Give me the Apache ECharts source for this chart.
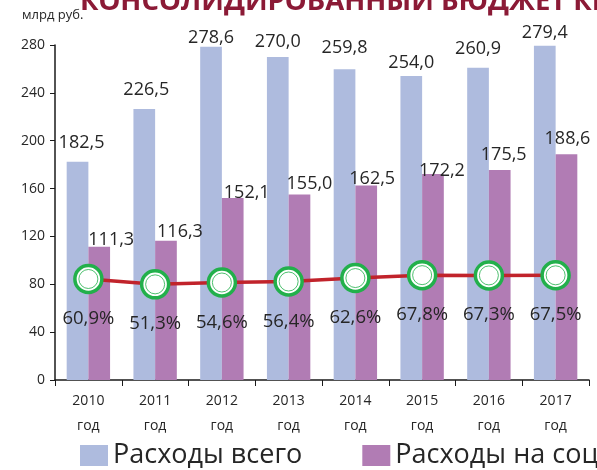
<!DOCTYPE html>
<html>
<head>
<meta charset="utf-8">
<script src="https://cdn.jsdelivr.net/npm/echarts@6/dist/echarts.min.js"></script>
<style>
  html, body { margin: 0; padding: 0; background: #fff; }
  #chart { width: 597px; height: 470px; }
</style>
</head>
<body>
<div id="chart"></div>
<script>
var years = ['2010', '2011', '2012', '2013', '2014', '2015', '2016', '2017'];
var totalSpending = [182.5, 226.5, 278.6, 270.0, 259.8, 254.0, 260.9, 279.4];
var socialSpending = [111.3, 116.3, 152.1, 155.0, 162.5, 172.2, 175.5, 188.6];
var socialShare = [60.9, 51.3, 54.6, 56.4, 62.6, 67.8, 67.3, 67.5];
var yTicks = [0, 40, 80, 120, 160, 200, 240, 280];

var FONT = '"Open Sans", "Noto Sans", sans-serif';
var TEXT = '#262626';

// label nudges, excel labels were dragged by hand
var totalNudge = [[4, -4], [2, -4], [0, 6], [0, 0], [0, -6], [0, 2], [0, -4], [0, 2]];
var socialNudge = [[12, 4], [14, 2], [14, 6], [10, 0], [6, 4], [9, 8], [4, -4], [1, -4]];

function comma(v, d) {
  return v.toFixed(d).replace('.', ',');
}

function barData(values, nudge) {
  return values.map(function (v, i) {
    return { value: v, label: { offset: nudge[i] } };
  });
}

var chart = echarts.init(document.getElementById('chart'));

chart.setOption({
  animation: false,
  textStyle: { fontFamily: FONT },
  graphic: [
    {
      type: 'text', left: 80, top: -12,
      style: {
        text: 'КОНСОЛИДИРОВАННЫЙ БЮДЖЕТ КРАЯ',
        fill: '#8B1A36', font: 'bold 27.5px ' + FONT
      }
    },
    {
      type: 'text', left: 22, top: 9,
      style: { text: 'млрд руб.', fill: TEXT, font: '13px ' + FONT }
    }
  ],
  legend: {
    data: ['Расходы всего', 'Расходы на социальную сферу'],
    left: 75, top: 437, width: 1200,
    itemWidth: 28, itemHeight: 21, itemGap: 60, itemTextGap: 14,
    icon: 'rect',
    textStyle: { fontSize: 27, color: TEXT, fontFamily: FONT }
  },
  grid: { left: 55, right: 8, top: 45, bottom: 90, containLabel: false },
  xAxis: {
    type: 'category',
    data: years,
    axisLine: { lineStyle: { color: '#1a1a1a', width: 1.5 } },
    axisTick: { show: true, length: 6, lineStyle: { color: '#1a1a1a' } },
    axisLabel: {
      color: TEXT, fontSize: 14, lineHeight: 25, margin: 9,
      formatter: function (v) { return v + '\nгод'; }
    }
  },
  yAxis: [
    {
      type: 'value', min: yTicks[0], max: yTicks[yTicks.length - 1], interval: 40,
      axisLine: { show: true, lineStyle: { color: '#1a1a1a', width: 1.5 } },
      axisTick: { show: true, length: 5, lineStyle: { color: '#1a1a1a' } },
      splitLine: { show: false },
      axisLabel: { color: TEXT, fontSize: 14, margin: 10 }
    },
    {
      type: 'value', min: -120, max: 480, show: false, splitLine: { show: false }
    }
  ],
  series: [
    {
      name: 'Расходы всего',
      type: 'bar',
      data: barData(totalSpending, totalNudge),
      barGap: '0%',
      barCategoryGap: '35%',
      itemStyle: { color: '#AEBBDE' },
      label: {
        show: true, position: 'top', distance: 6,
        color: TEXT, fontSize: 18, fontFamily: FONT,
        formatter: function (p) { return comma(p.value, 1); }
      }
    },
    {
      name: 'Расходы на социальную сферу',
      type: 'bar',
      data: barData(socialSpending, socialNudge),
      itemStyle: { color: '#B17CB4' },
      label: {
        show: true, position: 'top', distance: 2,
        color: TEXT, fontSize: 18, fontFamily: FONT,
        formatter: function (p) { return comma(p.value, 1); }
      }
    },
    {
      name: 'Доля',
      type: 'line',
      yAxisIndex: 1,
      data: socialShare,
      z: 5,
      lineStyle: { color: '#C1232B', width: 3.5 },
      symbol: 'circle',
      symbolSize: 27,
      itemStyle: { color: '#ffffff', borderColor: '#22B04B', borderWidth: 3.5 },
      label: {
        show: true, position: 'bottom', distance: 15,
        color: TEXT, fontSize: 18.5, fontFamily: FONT,
        formatter: function (p) { return comma(p.value, 1) + '%'; }
      }
    },
    {
      name: 'inner ring',
      type: 'scatter',
      yAxisIndex: 1,
      data: socialShare,
      z: 6,
      silent: true,
      symbol: 'circle',
      symbolSize: 19,
      itemStyle: { color: 'rgba(0,0,0,0)', borderColor: '#22B04B', borderWidth: 1 }
    }
  ]
});
</script>
</body>
</html>
